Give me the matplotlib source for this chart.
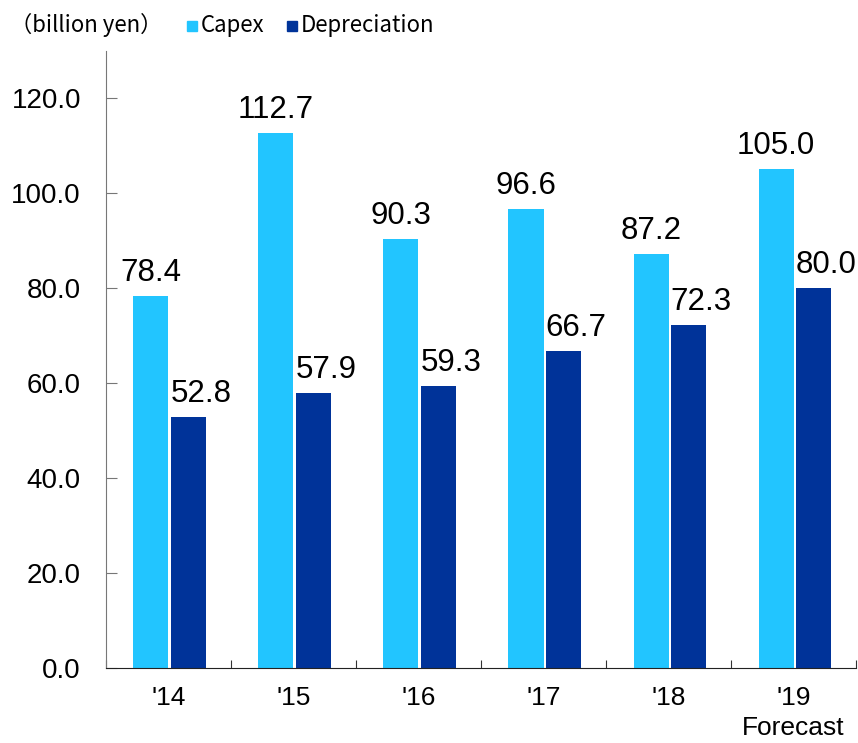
import numpy as np
import matplotlib.pyplot as plt

years = ["'14", "'15", "'16", "'17", "'18", "'19\nForecast"]
capex = [78.4, 112.7, 90.3, 96.6, 87.2, 105.0]
depreciation = [52.8, 57.9, 59.3, 66.7, 72.3, 80.0]

c_capex = '#22C5FF'
c_dep = '#003399'

plt.rcParams['font.family'] = ['Liberation Sans', 'DejaVu Sans']

fig = plt.figure(figsize=(8.58, 7.43), dpi=100)
ax = fig.add_axes([0.1235, 0.1009, 0.8742, 0.8311])

x = np.arange(len(years)) + 0.5
w = 0.28
ax.bar(x - 0.14, capex, w, color=c_capex)
ax.bar(x + 0.16, depreciation, w, color=c_dep)

for xi, v in zip(x, capex):
    ax.text(xi - 0.14, v + 1.7, '%.1f' % v, ha='center', va='bottom', fontsize=22.5)
for xi, v in zip(x, depreciation):
    ax.text(xi + 0.26, v + 1.7, '%.1f' % v, ha='center', va='bottom', fontsize=22.5)

ax.set_xlim(0, len(years))
ax.set_ylim(0, 130)
ax.set_yticks(np.arange(0, 121, 20))
ax.set_yticklabels(['%.1f' % t for t in np.arange(0, 121, 20)], fontsize=20)
ax.set_xticks(np.arange(len(years) + 1))
ax.set_xticklabels([])
ax.set_xticks(x, minor=True)
ax.set_xticklabels(years, minor=True, fontsize=19, linespacing=1.3, va='top')

ax.tick_params(axis='y', direction='in', length=8, color='#777777', pad=18)
ax.tick_params(axis='x', which='major', direction='in', length=6, color='#333333')
ax.tick_params(axis='x', which='minor', length=0, pad=13)

ax.spines['top'].set_visible(False)
ax.spines['right'].set_visible(False)
ax.spines['left'].set_color('#777777')
ax.spines['bottom'].set_color('#222222')

hfont = ['Noto Sans CJK JP', 'DejaVu Sans']
fig.text(0.012, 0.966, '（billion yen）', fontsize=16, family=hfont, va='center')
fig.patches.append(plt.Rectangle((0.218, 0.958), 0.0117, 0.0135, color=c_capex, transform=fig.transFigure, figure=fig))
fig.text(0.234, 0.966, 'Capex', fontsize=16, family=hfont, va='center')
fig.patches.append(plt.Rectangle((0.334, 0.958), 0.0117, 0.0135, color=c_dep, transform=fig.transFigure, figure=fig))
fig.text(0.350, 0.966, 'Depreciation', fontsize=16, family=hfont, va='center')

plt.savefig('out.png')
